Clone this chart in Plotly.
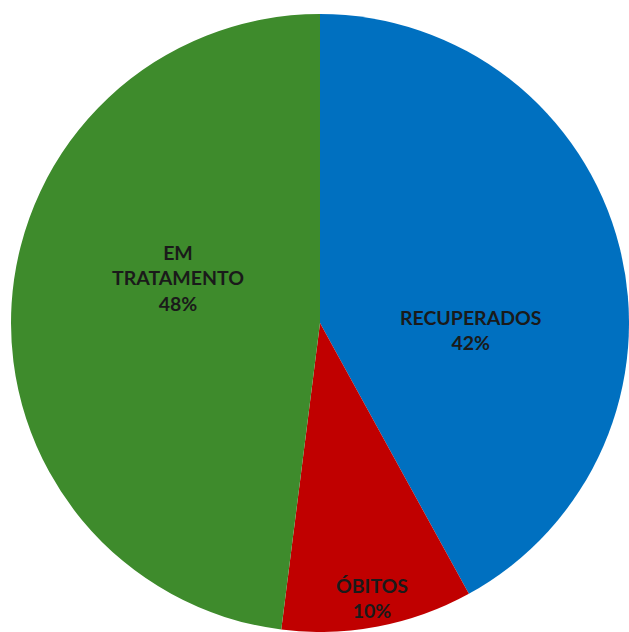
import plotly.graph_objects as go

labels = ["RECUPERADOS", "ÓBITOS", "EM TRATAMENTO"]
display_labels = ["RECUPERADOS", "ÓBITOS", "EM<br>TRATAMENTO"]
values = [42, 10, 48]
colors = ["#0070C0", "#C00000", "#3E8B2C"]
# label anchor positions (paper fractions) as placed in the reference
label_x = [0.743, 0.584, 0.270]
label_y = [0.489, 0.055, 0.573]

fig = go.Figure(go.Pie(
    labels=labels,
    values=values,
    textinfo="none",
    sort=False,
    direction="clockwise",
    rotation=0,
    marker=dict(colors=colors, line=dict(width=0)),
    hoverinfo="label+percent",
    showlegend=False,
))

total = sum(values)
for lab, v, x, y in zip(display_labels, values, label_x, label_y):
    fig.add_annotation(
        x=x, y=y, xref="paper", yref="paper",
        text=f"<b>{lab}<br>{round(100 * v / total)}%</b>",
        showarrow=False,
        font=dict(family="Lato", size=19.5, color="#1a1a1a"),
        align="center",
        xanchor="center", yanchor="middle",
    )

fig.update_layout(
    width=629,
    height=632,
    margin=dict(l=11, r=0, t=14, b=0),
    paper_bgcolor="white",
    plot_bgcolor="white",
)

fig.write_html(
    "out.html",
    config={"displayModeBar": False},
    post_script=(
        "document.documentElement.style.overflow='hidden';"
        "document.body.style.overflow='hidden';"
        "document.body.style.margin='0';"
    ),
)
